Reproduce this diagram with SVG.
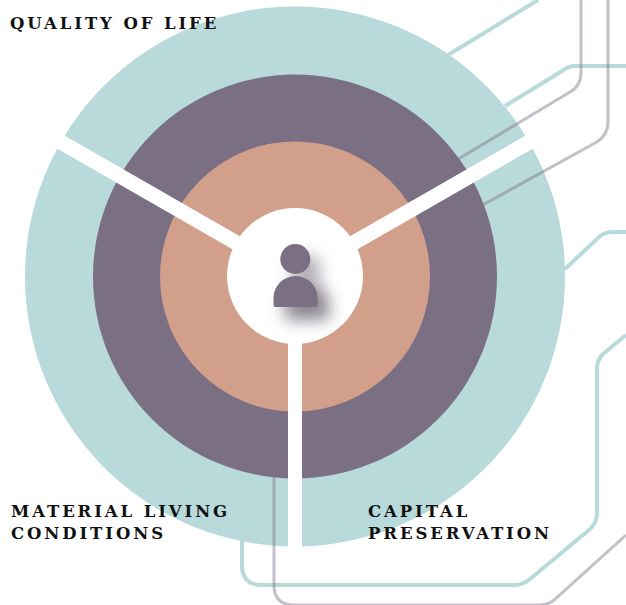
<svg xmlns="http://www.w3.org/2000/svg" width="626" height="605" viewBox="0 0 626 605">
<style>
.teal{fill:none;stroke:#b9dadb;stroke-width:4}
.gray{fill:none;stroke:#7c7085;stroke-opacity:.45;stroke-width:3}
.spoke{stroke:#fff;stroke-width:15;fill:none}
text{font-family:"DejaVu Serif",serif;font-weight:700;font-size:16.5px;letter-spacing:2.9px;fill:#111}
</style>
<defs><filter id="sh" x="-80%" y="-80%" width="260%" height="260%"><feGaussianBlur stdDeviation="8"/></filter></defs>
<rect width="626" height="605" fill="#fff"/>
<g id="ring-outer"><circle cx="295" cy="276.5" r="270" fill="#b9dadb"/></g>
<g id="connectors">
<path class="teal" d="M448 55L538 0"/>
<path class="teal" d="M505 106L562 71Q568 66 576 66L626 66"/>
<path class="teal" d="M565 269L597 239Q603 232 612 232L626 232"/>
<path class="teal" d="M242 541L242 565Q242 585 262 585L515 585Q523 585 530 579L589 530Q597 524 597 512L597 368Q597 360 603 354L626 335"/>
<path class="gray" d="M440 170L570 92Q581 86 581 72L581 0"/>
<path class="gray" d="M470 212L595 143Q608 136 608 122L608 0"/>
<path class="gray" d="M274 470L274 585Q274 605 294 605L540 605Q548 605 554 600L626 535"/>
</g>
<g id="ring-middle"><circle cx="295" cy="276.5" r="202" fill="#7b6f84"/></g>
<g id="ring-inner"><circle cx="295" cy="276.5" r="135" fill="#d2a08a"/></g>
<g id="spokes">
<path class="spoke" d="M295 276.5L59 141"/>
<path class="spoke" d="M295 276.5L531 141"/>
<path class="spoke" style="stroke-width:14" d="M295 276.5L295 550"/>
</g>
<g id="center"><circle cx="295" cy="276" r="68" fill="#fff"/></g>
<g id="person">
<path d="M285 320L285 304A22 22 0 0 1 329 304L329 319Q329 320 327 320Z" fill="#6f6776" opacity=".8" filter="url(#sh)"/>
<circle cx="306" cy="270" r="15" fill="#6f6776" opacity=".55" filter="url(#sh)"/>
<circle cx="295.300" cy="259" r="15" fill="#7b6f84"/>
<path d="M273.500 305L273.500 298A22 22 0 0 1 317.500 298L317.500 305Q317.500 307 315.500 307L275.500 307Q273.500 307 273.500 305Z" fill="#7b6f84"/>
</g>
<g id="label-quality"><text x="10" y="29">QUALITY OF LIFE</text></g>
<g id="label-material"><text x="11" y="516.500">MATERIAL LIVING</text><text x="11" y="538.500">CONDITIONS</text></g>
<g id="label-capital"><text x="368" y="516.500">CAPITAL</text><text x="368" y="538.500">PRESERVATION</text></g>
</svg>
